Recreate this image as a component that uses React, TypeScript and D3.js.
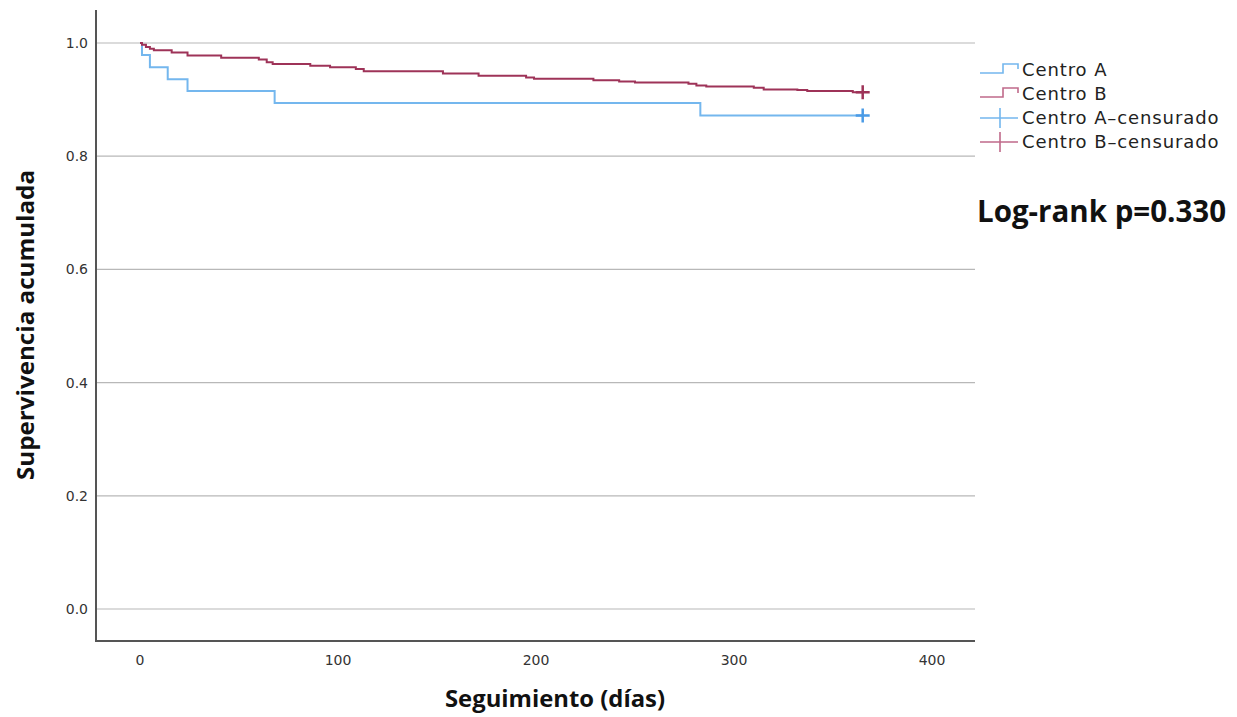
import { useEffect, useRef } from "react";
import * as d3 from "d3";

// Kaplan-Meier steps (day, survival)
const centroADays = [0, 1, 5, 14, 24, 68, 283, 365];
const centroASurv = [1.0, 0.979, 0.957, 0.936, 0.915, 0.894, 0.872, 0.872];

const centroBDays = [
  0, 1, 3, 5, 7, 16, 24, 41, 60, 64, 67, 86, 96, 109, 113, 153, 171, 195, 199,
  229, 242, 250, 277, 281, 286, 310, 315, 332, 337, 360, 365,
];
const centroBSurv = [
  1.0, 0.997, 0.993, 0.99, 0.987, 0.983, 0.978, 0.974, 0.971, 0.966, 0.963,
  0.96, 0.957, 0.954, 0.95, 0.946, 0.942, 0.939, 0.937, 0.934, 0.932, 0.93,
  0.928, 0.925, 0.923, 0.921, 0.918, 0.917, 0.915, 0.913, 0.913,
];

const xTicks = [0, 100, 200, 300, 400];
const yTicks = [0, 0.2, 0.4, 0.6, 0.8, 1.0];
const legendLabels = ["Centro A", "Centro B", "Centro A\u2013censurado", "Centro B\u2013censurado"];

const colorA = "#74b7ee";
const colorACens = "#4a9be6";
const colorB = "#9e3358";
const colorBLegend = "#c06a8a";

const App = () => {
  const ref = useRef<SVGSVGElement>(null);

  useEffect(() => {
    const width = 1237;
    const height = 717;
    const svg = d3.select(ref.current);
    svg.selectAll("*").remove();
    svg.attr("viewBox", [0, 0, width, height]);

    const x = d3.scaleLinear().domain([0, 400]).range([140, 932]);
    const y = d3.scaleLinear().domain([0, 1]).range([609, 43]);
    const left = 96;
    const right = 975;
    const top = 10;
    const bottom = 641;

    // gridlines
    svg
      .append("g")
      .selectAll("line")
      .data(yTicks)
      .join("line")
      .attr("x1", left)
      .attr("x2", right)
      .attr("y1", (d) => y(d))
      .attr("y2", (d) => y(d))
      .attr("stroke", "#b8b8b8")
      .attr("stroke-width", 1.2);

    // axes
    svg
      .append("line")
      .attr("x1", left)
      .attr("x2", left)
      .attr("y1", top)
      .attr("y2", bottom)
      .attr("stroke", "#555")
      .attr("stroke-width", 2);
    svg
      .append("line")
      .attr("x1", left - 1)
      .attr("x2", right)
      .attr("y1", bottom)
      .attr("y2", bottom)
      .attr("stroke", "#555")
      .attr("stroke-width", 2);

    const tickFont = "DejaVu Sans, sans-serif";
    svg
      .append("g")
      .selectAll("text")
      .data(yTicks)
      .join("text")
      .attr("x", 88)
      .attr("y", (d) => y(d))
      .attr("dy", "0.35em")
      .attr("text-anchor", "end")
      .attr("font-family", tickFont)
      .attr("font-size", 14)
      .attr("fill", "#333")
      .text((d) => d3.format(".1f")(d));
    svg
      .append("g")
      .selectAll("text")
      .data(xTicks)
      .join("text")
      .attr("x", (d) => x(d))
      .attr("y", 660)
      .attr("dy", "0.35em")
      .attr("text-anchor", "middle")
      .attr("font-family", tickFont)
      .attr("font-size", 14)
      .attr("fill", "#333")
      .text((d) => d);

    // axis titles
    svg
      .append("text")
      .attr("transform", "translate(26,325) rotate(-90)")
      .attr("dy", "0.35em")
      .attr("text-anchor", "middle")
      .attr("font-family", "Open Sans, sans-serif")
      .attr("font-weight", "bold")
      .attr("font-size", 23.5)
      .attr("textLength", 310)
      .attr("lengthAdjust", "spacingAndGlyphs")
      .attr("fill", "#111")
      .text("Supervivencia acumulada");
    svg
      .append("text")
      .attr("x", 555)
      .attr("y", 699)
      .attr("dy", "0.35em")
      .attr("text-anchor", "middle")
      .attr("font-family", "Open Sans, sans-serif")
      .attr("font-weight", "bold")
      .attr("font-size", 23)
      .attr("textLength", 220)
      .attr("lengthAdjust", "spacingAndGlyphs")
      .attr("fill", "#111")
      .text("Seguimiento (días)");

    // curves
    const line = d3
      .line<[number, number]>()
      .x((d) => x(d[0]))
      .y((d) => y(d[1]))
      .curve(d3.curveStepAfter);

    const seriesA = centroADays.map((d, i) => [d, centroASurv[i]] as [number, number]);
    const seriesB = centroBDays.map((d, i) => [d, centroBSurv[i]] as [number, number]);

    svg
      .append("path")
      .attr("d", line(seriesA))
      .attr("fill", "none")
      .attr("stroke", colorA)
      .attr("stroke-width", 2);
    svg
      .append("path")
      .attr("d", line(seriesB))
      .attr("fill", "none")
      .attr("stroke", colorB)
      .attr("stroke-width", 2);

    // censor marks
    const cens = [
      { p: seriesA[seriesA.length - 1], c: colorACens },
      { p: seriesB[seriesB.length - 1], c: colorB },
    ];
    cens.forEach(({ p, c }) => {
      const cx = x(p[0]);
      const cy = y(p[1]);
      svg
        .append("path")
        .attr("d", `M${cx - 7},${cy}H${cx + 7}M${cx},${cy - 7}V${cy + 7}`)
        .attr("stroke", c)
        .attr("stroke-width", 2.5);
    });

    // legend
    const lg = svg.append("g").attr("transform", "translate(980,0)");
    const rowsY = [70, 94, 118, 142];
    const legendColors = [colorA, colorBLegend, colorA, colorBLegend];
    rowsY.forEach((ry, i) => {
      if (i < 2) {
        lg.append("path")
          .attr("d", `M0,${ry + 3}H23V${ry - 6}H38V${ry - 1}`)
          .attr("fill", "none")
          .attr("stroke", legendColors[i])
          .attr("stroke-width", 1.6);
      } else {
        lg.append("path")
          .attr("d", `M0,${ry}H38M20,${ry - 10}V${ry + 10}`)
          .attr("fill", "none")
          .attr("stroke", legendColors[i])
          .attr("stroke-width", 1.6);
      }
      lg.append("text")
        .attr("x", 42)
        .attr("y", ry)
        .attr("dy", "0.35em")
        .attr("font-family", "DejaVu Sans, sans-serif")
        .attr("font-size", 18)
        .attr("letter-spacing", 0.9)
        .attr("fill", "#222")
        .text(legendLabels[i]);
    });

    svg
      .append("text")
      .attr("x", 977)
      .attr("y", 222)
      .attr("font-family", "Open Sans, sans-serif")
      .attr("font-weight", "bold")
      .attr("font-size", 29.5)
      .attr("fill", "#111")
      .text("Log-rank p=0.330");
  }, []);

  return (
    <svg
      ref={ref}
      width={1237}
      height={717}
      style={{ position: "absolute", left: 0, top: 0, background: "#fff" }}
    />
  );
};

export default App;
